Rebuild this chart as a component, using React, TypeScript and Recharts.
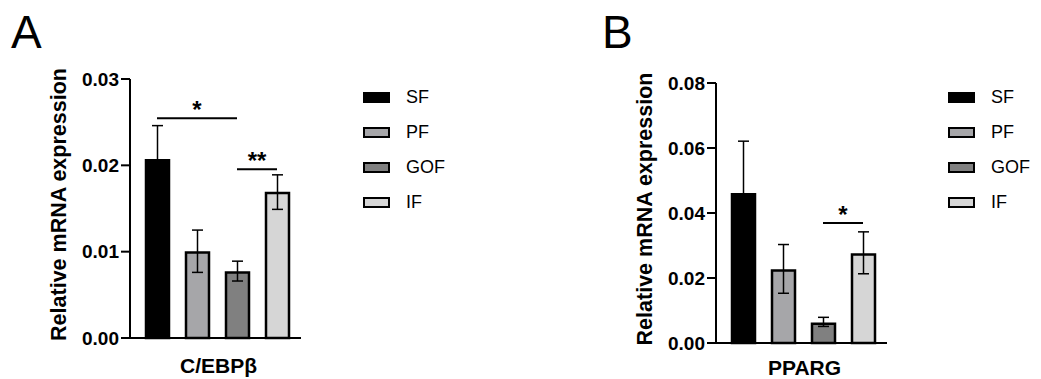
import { BarChart, Bar, Cell, XAxis, YAxis, ErrorBar, ReferenceLine } from "recharts";

// groups shared by both panels
const groups = ["SF", "PF", "GOF", "IF"];
const groupColors = ["#000000", "#a6a6a9", "#808080", "#d6d6d6"];

// panel A: C/EBPβ
const cebpbMeans = [0.0206, 0.0099, 0.0076, 0.0168];
const cebpbErrors = [
  [0.004, 0.004],
  [0.0023, 0.0026],
  [0.001, 0.0013],
  [0.0019, 0.0021],
];
const cebpbTicks = [0, 0.01, 0.02, 0.03];
const cebpbSig = [
  { from: "SF", to: "GOF", y: 0.02545, label: "*" },
  { from: "GOF", to: "IF", y: 0.01954, label: "**" },
];

// panel B: PPARG
const ppargMeans = [0.0458, 0.0223, 0.0059, 0.0272];
const ppargErrors = [
  [0.0163, 0.0163],
  [0.007, 0.008],
  [0.0008, 0.002],
  [0.0059, 0.007],
];
const ppargTicks = [0, 0.02, 0.04, 0.06, 0.08];
const ppargSig = [{ from: "GOF", to: "IF", y: 0.03692, label: "*" }];

const FONT = "Arial, 'Liberation Sans', Helvetica, sans-serif";

type Sig = { from: string; to: string; y: number; label: string };

type PanelProps = {
  letter: string;
  gene: string;
  means: number[];
  errors: number[][];
  ticks: number[];
  sigs: Sig[];
  left: number;
  margin: { top: number; right: number; left: number; bottom: number };
  xAxisHeight: number;
  geneOffset: number;
  letterLeft: number;
  legendLeft: number;
};

function Legend({ left }: { left: number }) {
  return (
    <div style={{ position: "absolute", left, top: 80.5 }}>
      {groups.map((g, i) => (
        <div key={g} style={{ display: "flex", alignItems: "center", height: 34.8 }}>
          <div
            style={{
              boxSizing: "border-box",
              width: 27,
              height: 11,
              background: groupColors[i],
              border: "2.5px solid #000",
            }}
          />
          <span style={{ marginLeft: 16, fontSize: 18, color: "#000" }}>{g}</span>
        </div>
      ))}
    </div>
  );
}

function Panel(p: PanelProps) {
  const data = groups.map((g, i) => ({ name: g, mean: p.means[i], err: p.errors[i] }));
  const max = p.ticks[p.ticks.length - 1];
  const axisStyle = { stroke: "#000", strokeWidth: 2 };
  return (
    <>
      <div
        style={{
          position: "absolute",
          left: p.letterLeft,
          top: 9,
          fontSize: 46,
          lineHeight: 1,
          color: "#000",
        }}
      >
        {p.letter}
      </div>
      <div style={{ position: "absolute", left: p.left, top: 0 }}>
        <BarChart width={340} height={379} data={data} margin={p.margin}>
          <XAxis
            dataKey="name"
            tick={false}
            tickLine={axisStyle}
            axisLine={axisStyle}
            tickSize={10}
            height={p.xAxisHeight}
            padding={{ left: 7, right: 4 }}
            label={{
              value: p.gene,
              position: "insideBottom",
              offset: p.geneOffset,
              dx: 3,
              style: { fontSize: 21, fontWeight: "bold", fill: "#000" },
            }}
          />
          <YAxis
            type="number"
            domain={[0, max]}
            ticks={p.ticks}
            interval={0}
            width={80}
            tickSize={9}
            tickLine={axisStyle}
            axisLine={axisStyle}
            tickFormatter={(v: number) => v.toFixed(2)}
            tick={{ fontSize: 19, fontWeight: "bold", fill: "#000" }}
            label={{
              value: "Relative mRNA expression",
              angle: -90,
              position: "insideLeft",
              offset: 8,
              dy: -4,
              style: { textAnchor: "middle", fontSize: 21.5, fontWeight: "bold", fill: "#000" },
            }}
          />
          <Bar dataKey="mean" barSize={23} stroke="#000" strokeWidth={2.5} isAnimationActive={false}>
            {data.map((d, i) => (
              <Cell key={d.name} fill={groupColors[i]} />
            ))}
            <ErrorBar dataKey="err" width={5.5} stroke="#000" strokeWidth={1.5} direction="y" />
          </Bar>
          {p.sigs.map((s) => (
            <ReferenceLine
              key={s.from + s.to}
              segment={[
                { x: s.from, y: s.y },
                { x: s.to, y: s.y },
              ]}
              stroke="#000"
              strokeWidth={2}
              label={{
                value: s.label,
                position: "top",
                offset: 0,
                style: { fontSize: 24, fontWeight: "bold", fill: "#000" },
              }}
            />
          ))}
        </BarChart>
      </div>
      <Legend left={p.legendLeft} />
    </>
  );
}

export default function App() {
  return (
    <div
      style={{
        position: "absolute",
        left: 0,
        top: 0,
        width: 1041,
        height: 379,
        background: "#fff",
        fontFamily: FONT,
        overflow: "hidden",
      }}
    >
      <Panel
        letter="A"
        gene="C/EBPβ"
        means={cebpbMeans}
        errors={cebpbErrors}
        ticks={cebpbTicks}
        sigs={cebpbSig}
        left={0}
        margin={{ top: 79, right: 39, left: 50, bottom: 0 }}
        xAxisHeight={41}
        geneOffset={6}
        letterLeft={11}
        legendLeft={363}
      />
      <Panel
        letter="B"
        gene="PPARG"
        means={ppargMeans}
        errors={ppargErrors}
        ticks={ppargTicks}
        sigs={ppargSig}
        left={590}
        margin={{ top: 83, right: 43, left: 46, bottom: 0 }}
        xAxisHeight={36}
        geneOffset={4}
        letterLeft={602}
        legendLeft={948}
      />
    </div>
  );
}
